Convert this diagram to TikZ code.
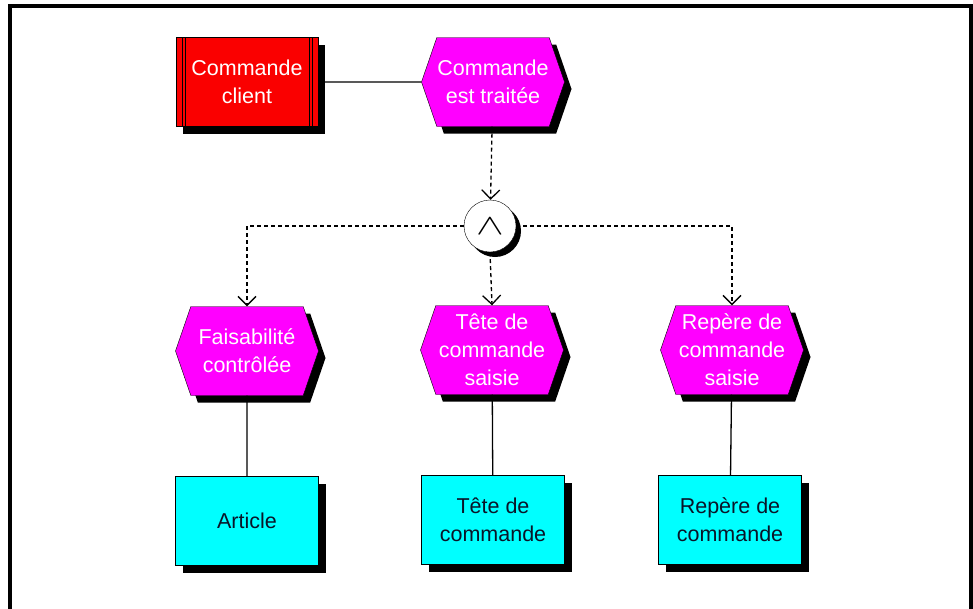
\documentclass[tikz,border=0pt]{standalone}
\usepackage{fontspec}
\setmainfont{Liberation Sans}
\usetikzlibrary{positioning, arrows.meta, shapes.symbols, shadows}

\begin{document}
\begin{tikzpicture}[
  x=1pt, y=-1pt,
  every node/.style={font=\fontsize{21.5}{28}\selectfont, align=center},
  shade/.style={drop shadow={shadow xshift=7pt, shadow yshift=-7pt, opacity=1, fill=black}},
  event/.style={signal, signal to=east and west, signal pointer angle=142,
    draw, thin, fill={rgb,255:red,255;green,0;blue,255}, text=white,
    minimum width=143pt, minimum height=89pt, inner sep=0pt, shade},
  process/.style={rectangle, draw, thin, fill={rgb,255:red,250;green,0;blue,0},
    text=white, minimum width=142pt, minimum height=89pt, inner sep=0pt, shade},
  entity/.style={rectangle, draw, thin, fill={rgb,255:red,0;green,255;blue,255},
    text={rgb,255:red,10;green,20;blue,40}, minimum width=143pt, minimum height=89pt,
    inner sep=0pt, shade},
  op/.style={circle, draw, thin, fill=white, minimum size=52pt, inner sep=0pt,
    drop shadow={shadow xshift=5pt, shadow yshift=-5pt, opacity=1, fill=black}},
  flow/.style={-{Straight Barb[length=9pt, width=18pt]}, line width=1.3pt,
    dash pattern=on 4pt off 3pt},
  link/.style={line width=1.3pt}
]
  \useasboundingbox (0,0) rectangle (973,608);
  \draw[line width=4pt] (10,615) -- (10,6) -- (971,6) -- (971,615);

  \node[process] (cmd)   at (247,82)  {Commande\\client};
  \draw[thin] ([xshift=6pt]cmd.north west) -- ([xshift=6pt]cmd.south west);
  \draw[thin] ([xshift=9pt]cmd.north west) -- ([xshift=9pt]cmd.south west);
  \draw[thin] ([xshift=-6pt]cmd.north east) -- ([xshift=-6pt]cmd.south east);
  \draw[thin] ([xshift=-9pt]cmd.north east) -- ([xshift=-9pt]cmd.south east);
  \node[event]   (trt)   at (493,82)  {Commande\\est traitée};
  \node[op]      (et)    at (490,226) {\scalebox{2}[1.4]{$\wedge$}};
  \node[event]   (faisa) at (247,351) {Faisabilité\\contrôlée};
  \node[event]   (tete)  at (492,350) {Tête de\\commande\\saisie};
  \node[event]   (rep)   at (732,350) {Repère de\\commande\\saisie};
  \node[entity]  (art)   at (247,521) {Article};
  \node[entity]  (tcmd)  at (493,520) {Tête de\\commande};
  \node[entity]  (rcmd)  at (730,520) {Repère de\\commande};

  \draw[link] (cmd) -- (trt);
  \draw[flow] (trt) -- (et);
  \draw[flow] (et.west) -| (faisa.north);
  \draw[flow] (et.south) -- (tete.north);
  \draw[flow] (et.east) -| (rep.north);
  \draw[link] (faisa) -- (art);
  \draw[link] (tete) -- (tcmd);
  \draw[link] (rep) -- (rcmd);
\end{tikzpicture}
\end{document}
